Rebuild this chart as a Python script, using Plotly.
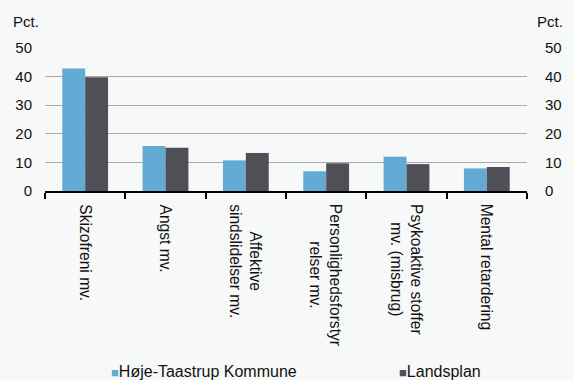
import plotly.graph_objects as go

# Diagnosegrupper (kategorier) og andele i pct.
categories = [
    "Skizofreni mv.",
    "Angst mv.",
    "Affektive<br>sindslidelser mv.",
    "Personlighedsforstyr<br>relser mv.",
    "Psykoaktive stoffer<br>mv. (misbrug)",
    "Mental retardering",
]
series_names = ["Høje-Taastrup Kommune", "Landsplan"]
hoeje_taastrup = [42.8, 15.7, 10.7, 6.9, 12.0, 7.9]
landsplan = [39.8, 15.1, 13.3, 9.7, 9.4, 8.4]
y_ticks = [0, 10, 20, 30, 40, 50]

colors = ["#63AAD5", "#4F5057"]
font_family = "Liberation Sans, Arial, sans-serif"
text_color = "#111111"
bg = "#F7F8F8"

fig = go.Figure()
for name, vals, col in zip(series_names, [hoeje_taastrup, landsplan], colors):
    fig.add_trace(go.Bar(
        x=categories, y=vals, name=name,
        marker=dict(color=col, line=dict(width=0)),
        showlegend=False,
    ))

# invisible trace to carry the right-hand axis
fig.add_trace(go.Scatter(x=categories, y=[None] * len(categories),
                         yaxis="y2", showlegend=False, hoverinfo="skip"))

fig.update_layout(
    width=574, height=380,
    margin=dict(l=45, r=36, t=48, b=189),
    paper_bgcolor=bg, plot_bgcolor=bg,
    font=dict(family=font_family, size=15, color=text_color),
    barmode="group", bargap=0.43, bargroupgap=0,
    xaxis=dict(
        type="category", showticklabels=False,
        showline=True, linecolor="#000000", linewidth=1.5,
        ticks="outside", tickson="boundaries", ticklen=6,
        tickcolor="#000000", tickwidth=1.5,
        showgrid=False, zeroline=False,
    ),
    yaxis=dict(
        range=[0, 50], tickvals=y_ticks, showline=False,
        gridcolor="#A8A8A8", gridwidth=1, zeroline=False,
        ticks="", ticklabelstandoff=12,
    ),
    yaxis2=dict(
        range=[0, 50], tickvals=y_ticks, overlaying="y", side="right",
        showgrid=False, zeroline=False, showline=False,
        ticks="", ticklabelstandoff=17,
    ),
)

annotations = []
# rotated category labels below the axis
for cat in categories:
    annotations.append(dict(
        x=cat, xref="x", y=0, yref="paper", yshift=-11,
        text=cat, textangle=90, showarrow=False,
        xanchor="center", yanchor="top", align="center",
        font=dict(size=15.6, color=text_color),
    ))

# unit labels above both axes
annotations.append(dict(x=0, xref="paper", xshift=-34, y=1, yref="paper", yshift=27,
                        text="Pct.", showarrow=False, xanchor="left", yanchor="middle"))
annotations.append(dict(x=1, xref="paper", xshift=8, y=1, yref="paper", yshift=27,
                        text="Pct.", showarrow=False, xanchor="left", yanchor="middle"))

# legend entries along the bottom
legend_offsets = [64, 352]
for name, col, off in zip(series_names, colors, legend_offsets):
    annotations.append(dict(
        x=0, xref="paper", xshift=off, y=0, yref="paper", yshift=-180,
        text=f"<span style='color:{col};font-size:13px'>■</span>{name}",
        showarrow=False, xanchor="left", yanchor="middle",
        font=dict(size=16, color=text_color),
    ))

fig.update_layout(annotations=annotations)
fig.write_html("out.html")
